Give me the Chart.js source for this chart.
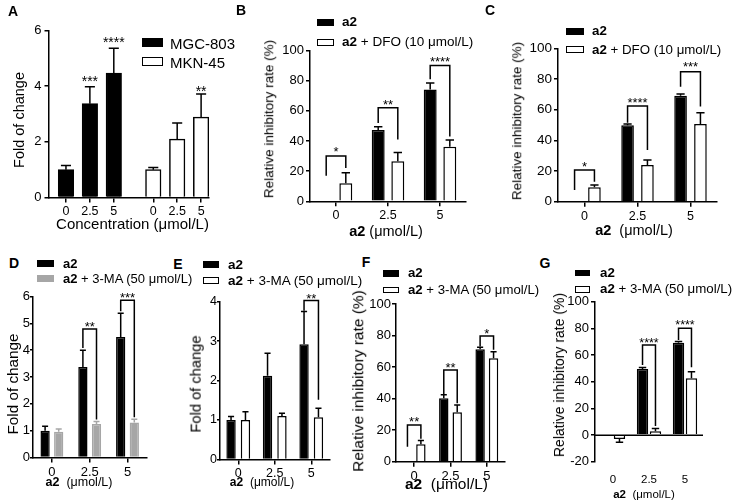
<!DOCTYPE html>
<html><head><meta charset="utf-8">
<script src="https://cdn.jsdelivr.net/npm/chart.js@4.4.0/dist/chart.umd.min.js"></script>
<style>
html,body{margin:0;padding:0;background:#fff;}
body{width:733px;height:503px;position:relative;overflow:hidden;font-family:'Liberation Sans',Arial,sans-serif;color:#000;}
canvas{position:absolute;}
.t{position:absolute;white-space:nowrap;line-height:1;transform:translate(-50%,-50%);}
.l{position:absolute;white-space:nowrap;line-height:1;transform:translateY(-50%);}
.r{position:absolute;white-space:nowrap;line-height:1;transform:translate(-50%,-50%) rotate(-90deg);}
.box{position:absolute;box-sizing:border-box;}
</style></head><body>
<script>
// ---------------- data ----------------
const concLabels = ["0", "2.5", "5"];

const A_mgc = [1.00, 3.37, 4.47];
const A_mgcErr = [0.15, 0.61, 0.89];
const A_mkn = [1.00, 2.10, 2.89];
const A_mknErr = [0.08, 0.58, 0.83];

const B_a2 = [0, 47.2, 74.2];
const B_a2Err = [0, 2.2, 4.3];
const B_dfo = [11.9, 26.5, 36.2];
const B_dfoErr = [7.0, 5.9, 4.4];

const C_a2 = [0, 49.8, 69.1];
const C_a2Err = [0, 0.9, 1.1];
const C_dfo = [9.4, 23.9, 50.6];
const C_dfoErr = [1.5, 3.3, 7.4];

const D_a2 = [1.00, 3.37, 4.49];
const D_a2Err = [0.16, 0.63, 0.89];
const D_ma = [0.96, 1.25, 1.30];
const D_maErr = [0.10, 0.09, 0.13];

const E_a2 = [1.00, 2.12, 2.92];
const E_a2Err = [0.09, 0.57, 0.83];
const E_ma = [1.00, 1.10, 1.07];
const E_maErr = [0.21, 0.07, 0.23];

const F_a2 = [0, 40.2, 71.3];
const F_a2Err = [0, 2.3, 1.3];
const F_ma = [11.0, 31.3, 65.6];
const F_maErr = [2.4, 4.7, 4.2];

const G_a2 = [0, 49.5, 69.2];
const G_a2Err = [0, 1.2, 1.0];
const G_ma = [-3.0, 2.8, 42.5];
const G_maErr = [2.4, 2.1, 5.0];

// significance marks: bracket between the two bars of category i
const A_stars = [{ds:0, i:1, label:"***", ly:4.29}, {ds:0, i:2, label:"****", ly:5.69}, {ds:1, i:2, label:"**", ly:3.93}];
const B_brackets = [{i:0, top:30, l:17, r:22, label:"*", ly:35}, {i:1, top:62, l:52, r:41, label:"**", ly:66.5}, {i:2, top:90, l:81, r:43, label:"****", ly:95}];
const C_brackets = [{i:0, top:20.7, l:7.6, r:13, label:"*", ly:25}, {i:1, top:62.4, l:51.5, r:33.7, label:"****", ly:66.8}, {i:2, top:84.7, l:75, r:62, label:"***", ly:89.8}];
const D_brackets = [{i:1, top:4.79, l:4.08, r:1.42, label:"**", ly:5.0}, {i:2, top:5.86, l:5.45, r:1.50, label:"***", ly:6.07}];
const E_brackets = [{i:2, top:4.03, l:3.77, r:1.51, label:"**", ly:4.17}];
const F_brackets = [{i:0, top:23.3, l:9.5, r:14.5, label:"**", ly:27.5}, {i:1, top:58.1, l:42.8, r:37, label:"**", ly:61.5}, {i:2, top:79.7, l:73, r:71, label:"*", ly:83.5}];
const G_brackets = [{i:1, top:67.5, l:52.5, r:6.8, label:"****", ly:71.8}, {i:2, top:80, l:71.3, r:50.8, label:"****", ly:85}];

// ---------------- styles ----------------
const FONT = "'Liberation Sans', Arial, sans-serif";
const BLACK = "#000000", WHITE = "#ffffff", GRAY = "#a6a6a6";
const GROUP_GAP = 0.65;
Chart.defaults.font.family = FONT;
Chart.defaults.color = "#000";

const annot = {
  id: "annot",
  afterDatasetsDraw(chart, args, opts) {
    const ctx = chart.ctx, y = chart.scales.y, ca = chart.chartArea;
    ctx.save();
    ctx.lineCap = "butt";
    if (opts.zeroLine) {
      const zy = Math.round(y.getPixelForValue(0)) + 0.25;
      ctx.strokeStyle = "#000"; ctx.lineWidth = 1.5;
      ctx.beginPath(); ctx.moveTo(ca.left, zy); ctx.lineTo(ca.right, zy); ctx.stroke();
    }
    chart.data.datasets.forEach((ds, di) => {
      if (!ds.errors) return;
      const meta = chart.getDatasetMeta(di);
      meta.data.forEach((bar, i) => {
        const raw = ds.data[i];
        const v = (typeof raw === "object") ? raw.y : raw;
        const e = ds.errors[i];
        if (!e) return;
        const dir = v < 0 ? -1 : 1;
        const y0 = y.getPixelForValue(v), y1 = y.getPixelForValue(v + dir * e);
        const cap = bar.width * 0.65;
        ctx.strokeStyle = ds.errColor || "#000"; ctx.lineWidth = 1.5;
        ctx.beginPath();
        ctx.moveTo(bar.x, y0); ctx.lineTo(bar.x, y1);
        ctx.moveTo(bar.x - cap / 2, y1); ctx.lineTo(bar.x + cap / 2, y1);
        ctx.stroke();
      });
    });
    const fs = opts.starSize || 13;
    ctx.font = fs + "px " + FONT;
    ctx.fillStyle = "#000"; ctx.textAlign = "center"; ctx.textBaseline = "alphabetic";
    (opts.brackets || []).forEach(b => {
      const x0 = chart.getDatasetMeta(0).data[b.i].x, x1 = chart.getDatasetMeta(1).data[b.i].x;
      const yt = y.getPixelForValue(b.top);
      ctx.strokeStyle = "#000"; ctx.lineWidth = 1.5;
      ctx.beginPath();
      ctx.moveTo(x0, y.getPixelForValue(b.l)); ctx.lineTo(x0, yt); ctx.lineTo(x1, yt); ctx.lineTo(x1, y.getPixelForValue(b.r));
      ctx.stroke();
      ctx.fillText(b.label, (x0 + x1) / 2, y.getPixelForValue(b.ly) + 0.58 * fs);
    });
    (opts.stars || []).forEach(s => {
      const bx = chart.getDatasetMeta(s.ds).data[s.i].x;
      ctx.fillText(s.label, bx, y.getPixelForValue(s.ly) + 0.58 * fs);
    });
    ctx.restore();
  }
};

function axisBase(fontSize, tickLen, pad) {
  return {
    ticks: {font: {size: fontSize}, color: "#000", padding: pad, autoSkip: false, maxRotation: 0},
    grid: {display: true, drawOnChartArea: false, drawTicks: true, tickLength: tickLen, color: "#000", lineWidth: 1.5, offset: false},
    border: {display: true, color: "#000", width: 1.5}
  };
}

function barSet(values, errs, fill, cp, bp, errColor) {
  return {data: values, errors: errs, backgroundColor: fill, borderColor: fill === GRAY ? GRAY : BLACK,
    borderWidth: 1.5, categoryPercentage: cp, barPercentage: bp, errColor: errColor};
}

function makeChart(p) {
  const cl = Math.floor(p.L - 48), ct = Math.floor(p.T - 16);
  const cw = Math.ceil(p.R + 12) - cl, ch = Math.ceil(p.B + 40) - ct;
  const cv = document.createElement("canvas");
  cv.width = cw; cv.height = ch;
  cv.style.left = cl + "px"; cv.style.top = ct + "px";
  cv.style.width = cw + "px"; cv.style.height = ch + "px";
  document.body.appendChild(cv);
  const padTop = p.T - ct, yw = p.L - cl, padRight = cw - (p.R - cl), xh = ch - (p.B - ct);
  const x = Object.assign(axisBase(p.xFont, 5, 2), p.x || {});
  x.afterFit = s => { s.height = xh; };
  const yt = p.yTick || [4, 2];
  const yax = Object.assign(axisBase(p.yFont, yt[0], yt[1]), {min: p.ymin, max: p.ymax});
  yax.ticks.stepSize = p.step;
  yax.afterFit = s => { s.width = yw; };
  if (p.xTweak) p.xTweak(x);
  return new Chart(cv, {
    type: "bar",
    data: {labels: p.labels, datasets: p.datasets},
    options: {
      responsive: false, animation: false, devicePixelRatio: 1,
      layout: {padding: {left: 0, top: padTop, right: padRight, bottom: 0}},
      plugins: {legend: {display: false}, tooltip: {enabled: false}, annot: p.annot},
      scales: {x: x, y: yax}
    },
    plugins: [annot]
  });
}

// ---------------- panel A (two groups on one axis) ----------------
const A_xPos = concLabels.map((_, i) => i).concat(concLabels.map((_, i) => i + concLabels.length + GROUP_GAP));
const A_xLabels = concLabels.concat(concLabels);
makeChart({
  L: 48.5, R: 209, T: 30.5, B: 197.5, ymin: 0, ymax: 6, step: 2, xFont: 12.5, yFont: 13, yTick: [4, 3],
  labels: undefined,
  datasets: [
    Object.assign(barSet(A_mgc.map((v, i) => ({x: A_xPos[i], y: v})), A_mgcErr, BLACK), {grouped: false, barThickness: 15.5}),
    Object.assign(barSet(A_mkn.map((v, i) => ({x: A_xPos[i + 3], y: v})), A_mknErr, WHITE), {grouped: false, barThickness: 15.5})
  ],
  xTweak: x => {
    x.type = "linear"; x.min = -0.73; x.max = 5.98; x.offset = false;
    x.afterBuildTicks = s => { s.ticks = A_xPos.map(v => ({value: v})); };
    x.ticks.callback = (v, i) => A_xLabels[i];
  },
  annot: {stars: A_stars, starSize: 14}
});

// ---------------- panels B - G ----------------
makeChart({L: 310, R: 466, T: 50.5, B: 201.3, ymin: 0, ymax: 100, step: 20, xFont: 12.5, yFont: 13, labels: concLabels,
  datasets: [barSet(B_a2, B_a2Err, BLACK, 0.754, 0.66), barSet(B_dfo, B_dfoErr, WHITE, 0.754, 0.66)],
  annot: {brackets: B_brackets, starSize: 13}});
makeChart({L: 558, R: 717, T: 48.3, B: 201.7, ymin: 0, ymax: 100, step: 20, xFont: 12.5, yFont: 13.5, labels: concLabels,
  datasets: [barSet(C_a2, C_a2Err, BLACK, 0.75, 0.635), barSet(C_dfo, C_dfoErr, WHITE, 0.75, 0.635)],
  annot: {brackets: C_brackets, starSize: 13}});
makeChart({L: 33, R: 146.4, T: 296.5, B: 457.5, ymin: 0, ymax: 6, step: 1, xFont: 13, yFont: 13, yTick: [3, 0], labels: concLabels,
  datasets: [barSet(D_a2, D_a2Err, BLACK, 0.72, 0.68), barSet(D_ma, D_maErr, GRAY, 0.72, 0.68, GRAY)],
  annot: {brackets: D_brackets, starSize: 13}});
makeChart({L: 220, R: 329.5, T: 301.7, B: 459.4, ymin: 0, ymax: 4, step: 1, xFont: 12.5, yFont: 12.5, yTick: [3, 0], labels: concLabels,
  datasets: [barSet(E_a2, E_a2Err, BLACK, 0.79, 0.65), barSet(E_ma, E_maErr, WHITE, 0.79, 0.65)],
  annot: {brackets: E_brackets, starSize: 13}});
makeChart({L: 396, R: 505, T: 304, B: 461.7, ymin: 0, ymax: 100, step: 20, xFont: 13, yFont: 13, yTick: [4, 1], labels: concLabels,
  datasets: [barSet(F_a2, F_a2Err, BLACK, 0.74, 0.7), barSet(F_ma, F_maErr, WHITE, 0.74, 0.7)],
  annot: {brackets: F_brackets, starSize: 13}});
makeChart({L: 595, R: 703, T: 301.7, B: 461.7, ymin: -20, ymax: 100, step: 20, xFont: 11.5, yFont: 13, yTick: [4, 2], labels: concLabels,
  datasets: [barSet(G_a2, G_a2Err, BLACK, 0.72, 0.88), barSet(G_ma, G_maErr, WHITE, 0.72, 0.88)],
  xTweak: x => { x.grid = {display: false, drawTicks: false}; x.border = {display: false}; x.ticks.padding = 11; },
  annot: {brackets: G_brackets, starSize: 12.5, zeroLine: true}});

// ---------------- HTML text: letters, titles, legends ----------------
function txt(cls, html, x, y, size, extra) {
  const d = document.createElement("div");
  d.className = cls; d.innerHTML = html;
  d.style.left = x + "px"; d.style.top = y + "px"; d.style.fontSize = size + "px";
  if (extra) Object.assign(d.style, extra);
  document.body.appendChild(d);
}
function box(x, y, w, h, fill) {
  const d = document.createElement("div");
  d.className = "box";
  Object.assign(d.style, {left: x + "px", top: y + "px", width: w + "px", height: h + "px", background: fill,
    border: fill === WHITE ? "1.5px solid #000" : "none"});
  document.body.appendChild(d);
}
const letters = [["A", 13, 11], ["B", 241, 10], ["C", 490, 10], ["D", 14, 263], ["E", 178, 264], ["F", 366, 262], ["G", 545, 263]];
letters.forEach(l => txt("t", l[0], l[1], l[2], 14, {fontWeight: "bold"}));

// y-axis titles
txt("r", "Fold of change", 19, 119.5, 14.5);
txt("r", "Relative inhibitory rate (%)", 269, 118.5, 13.5);
txt("r", "Relative inhibitory rate (%)", 517, 121, 13.5);
txt("r", "Fold of change", 12.5, 384, 15.3);
txt("r", "Fold of change", 196, 383.5, 14.7);
txt("r", "Relative inhibitory rate (%)", 358, 381, 15.5);
txt("r", "Relative inhibitory rate (%)", 558.5, 375, 14);

// x-axis titles
const unitTitle = "<b>a2</b>&nbsp; (μmol/L)";
txt("t", "Concentration (μmol/L)", 132.5, 223, 15);
txt("t", "<b>a2</b> (μmol/L)", 386, 231, 14.5);
txt("t", unitTitle, 634, 230, 14.5);
txt("t", unitTitle, 79, 482, 12.5);
txt("t", unitTitle, 262, 482, 12);
txt("t", unitTitle, 446.5, 483.5, 15.5);
txt("t", unitTitle, 644, 495, 11.5);

// legends
box(142, 38, 21, 9, BLACK); txt("l", "MGC-803", 170, 42.5, 15);
box(142, 57, 21, 9, WHITE); txt("l", "MKN-45", 170, 61.5, 15);

const dfoText = "<b>a2</b> + DFO (10 μmol/L)";
const maText = "<b>a2</b> + 3-MA (50 μmol/L)";
box(317, 19, 17, 7, BLACK); txt("l", "<b>a2</b>", 342, 22, 13.5);
box(317, 39, 17, 7, WHITE); txt("l", dfoText, 342, 42, 13.5);
box(566, 28, 18, 7, BLACK); txt("l", "<b>a2</b>", 592, 31, 13.3);
box(566, 46, 18, 7, WHITE); txt("l", dfoText, 592, 50, 13.3);
box(37, 260, 16.5, 6.5, BLACK); txt("l", "<b>a2</b>", 63, 262.7, 13);
box(37, 275, 16.5, 6.5, GRAY); txt("l", maText, 63, 278.3, 13);
box(203, 261, 16, 6.5, BLACK); txt("l", "<b>a2</b>", 228, 265, 13.5);
box(203, 277, 16, 6.5, WHITE); txt("l", maText, 228, 280.7, 13.5);
box(383, 270, 16, 6.5, BLACK); txt("l", "<b>a2</b>", 408, 273.3, 13.2);
box(383, 286.5, 16, 6.5, WHITE); txt("l", maText, 408, 290, 13.2);
box(575, 269.5, 15, 6.5, BLACK); txt("l", "<b>a2</b>", 600, 272.7, 13.3);
box(575, 286, 15, 6.5, WHITE); txt("l", maText, 600, 289.3, 13.3);
</script>
</body></html>
